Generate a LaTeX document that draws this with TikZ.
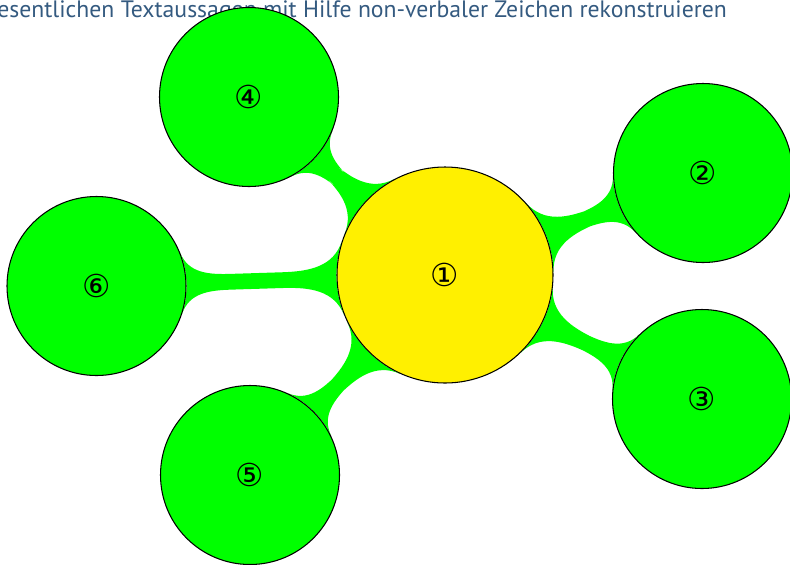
\documentclass[tikz,border=0pt]{standalone}
\usepackage{fontspec}
\setmainfont{PT Sans}
\newfontfamily\symfont{DejaVu Sans}
\usetikzlibrary{mindmap,backgrounds}
\definecolor{titleblue}{RGB}{52,90,128}
\definecolor{rootyellow}{RGB}{255,240,0}
\tikzstyle{topic} = [circle, draw=black, line width=0.6pt, inner sep=0pt, font=\symfont\fontsize{18}{18}\selectfont]
\tikzstyle{root} = [topic, minimum size=4.32cm, fill=rootyellow]
\tikzstyle{branch} = [topic, minimum size=3.58cm, fill=green]
\tikzstyle{connbar} = [circle connection bar, line width=0.34cm]

\begin{document}
\begin{tikzpicture}[concept color=green]
    \useasboundingbox (0,0) rectangle (15.8,-11.28);
    \node[anchor=base west, text=titleblue, font=\fontsize{13.5}{13.5}\selectfont, inner sep=0pt] (title) at (-0.06,-0.34) {esentlichen Textaussagen mit Hilfe non-verbaler Zeichen rekonstruieren};
    \node[root] (c1) at (8.90,-5.50) {①};
    \node[branch] (c2) at (14.06,-3.46) {②};
    \node[branch] (c3) at (14.04,-7.98) {③};
    \node[branch] (c4) at (4.98,-1.94) {④};
    \node[branch] (c5) at (5.00,-9.50) {⑤};
    \node[branch] (c6) at (1.93,-5.72) {⑥};
    \begin{pgfonlayer}{background}
        \foreach \n in {c2,c3,c4,c5,c6}
            \path (c1) to[connbar] (\n);
    \end{pgfonlayer}
\end{tikzpicture}
\end{document}
